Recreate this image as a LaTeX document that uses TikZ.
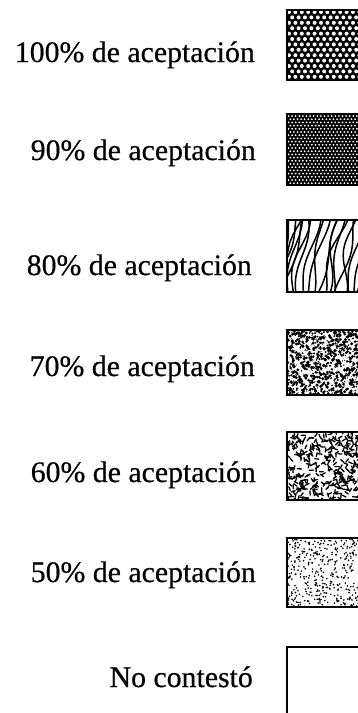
\documentclass[tikz,border=0pt]{standalone}
\usepackage{fontspec}
\setmainfont{Liberation Serif}
\newfontfamily\scanfont{Liberation Serif}[FakeBold=0.5]
\begin{document}
\begin{tikzpicture}[x=1pt,y=-1pt,
  legtext/.style={anchor=base east, inner sep=0pt, font=\scanfont\fontsize{29.8}{32}\selectfont},
  legbox/.style={draw=black, line width=2pt},
  stripe/.style={draw=black, line width=1.5pt, line cap=round},
  dashmark/.style={draw=black, line width=1.3pt, line cap=round}]
\useasboundingbox (0,0) rectangle (358,713);
\fill[white] (0,0) rectangle (358,713);
\def\L{287}\def\R{372}
\pgfmathsetseed{42}

% ---- 100% : coarse white dots on black
\begin{scope}
\clip (\L,10) rectangle (\R,80);
\fill[black] (\L,10) rectangle (\R,80);
\foreach \j in {0,...,13} { \foreach \i in {0,...,14} {
  \pgfmathsetmacro\xx{\L+2+\i*6.4+mod(\j,2)*3.2}
  \pgfmathsetmacro\yy{12+\j*5.4}
  \fill[white] (\xx,\yy) circle (2.0pt);
}}
\end{scope}
\draw[legbox] (\L,10) rectangle (\R,80);

% ---- 90% : fine white dots on black
\begin{scope}
\clip (\L,114) rectangle (\R,185);
\fill[black] (\L,114) rectangle (\R,185);
\foreach \j in {0,...,22} { \foreach \i in {0,...,24} {
  \pgfmathsetmacro\xx{\L+1.5+\i*3.6+mod(\j,2)*1.8}
  \pgfmathsetmacro\yy{116+\j*3.2}
  \fill[white] (\xx,\yy) circle (1.0pt);
}}
\end{scope}
\draw[legbox] (\L,114) rectangle (\R,185);

% ---- 80% : wavy stripes
\begin{scope}
\clip (\L,220) rectangle (\R,292);
\foreach \k in {-6,...,18} {
  \pgfmathsetmacro\ph{rnd*360}
  \pgfmathsetmacro\sl{10+rnd*18}
  \pgfmathsetmacro\am{2.5+rnd*2.5}
  \draw[stripe] plot[smooth, variable=\t, domain=0:1, samples=10]
    ({\L+\k*5+\sl*\t+\am*sin(\t*320+\ph)}, {294-76*\t});
}
\end{scope}
\draw[legbox] (\L,220) rectangle (\R,292);

% ---- 70% : dense random blobs
\begin{scope}
\clip (\L,330) rectangle (\R,395);
\foreach \n in {1,...,1000} {
  \pgfmathsetmacro\xx{\L+rnd*80}
  \pgfmathsetmacro\yy{330+rnd*65}
  \pgfmathsetmacro\rr{0.45+rnd*1.3}
  \fill[black] (\xx,\yy) circle (\rr pt);
}
\end{scope}
\draw[legbox] (\L,330) rectangle (\R,395);

% ---- 60% : random short dashes
\begin{scope}
\clip (\L,432) rectangle (\R,500);
\foreach \n in {1,...,400} {
  \pgfmathsetmacro\xx{\L+rnd*80}
  \pgfmathsetmacro\yy{432+rnd*68}
  \pgfmathsetmacro\aa{rnd*180}
  \pgfmathsetmacro\dx{2*cos(\aa)}
  \pgfmathsetmacro\dy{2*sin(\aa)}
  \draw[dashmark] (\xx-\dx,\yy-\dy) -- (\xx+\dx,\yy+\dy);
}
\end{scope}
\draw[legbox] (\L,432) rectangle (\R,500);

% ---- 50% : sparse dots
\begin{scope}
\clip (\L,538) rectangle (\R,607);
\foreach \n in {1,...,420} {
  \pgfmathsetmacro\xx{\L+rnd*80}
  \pgfmathsetmacro\yy{538+rnd*69}
  \fill[black] (\xx,\yy) circle (0.9pt);
}
\end{scope}
\draw[legbox] (\L,538) rectangle (\R,607);

% ---- No contestó : empty
\draw[legbox] (\L,647) rectangle (\R,730);

% ---- labels
\node[legtext] (t1) at (255,62)  {100\% de aceptación};
\node[legtext] (t2) at (256,160) {90\% de aceptación};
\node[legtext] (t3) at (252,275) {80\% de aceptación};
\node[legtext] (t4) at (255,376) {70\% de aceptación};
\node[legtext] (t5) at (256,482) {60\% de aceptación};
\node[legtext] (t6) at (256,582) {50\% de aceptación};
\node[legtext] (t7) at (253,687) {No contestó};
\end{tikzpicture}
\end{document}
